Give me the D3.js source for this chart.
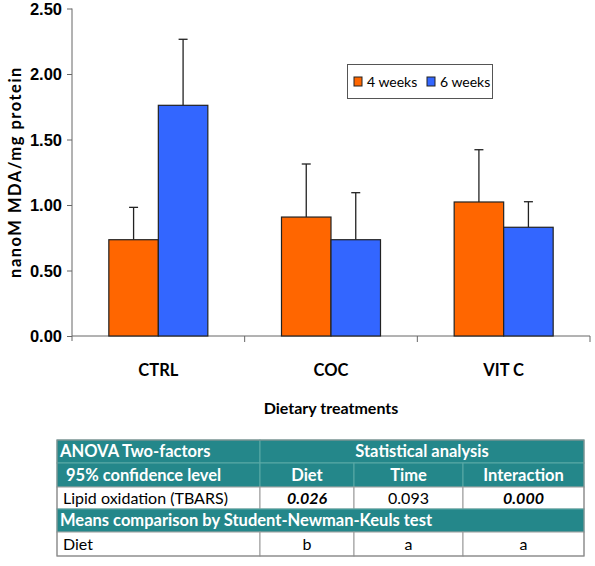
<!DOCTYPE html>
<html><head><meta charset="utf-8">
<script src="https://cdn.jsdelivr.net/npm/d3@7"></script>
<style>body{margin:0;background:#fff}svg{display:block;font-family:Lato,"Open Sans",sans-serif}</style>
</head><body><svg id="c" width="595" height="566"></svg>
<script>
const categories = ["CTRL","COC","VIT C"];
const seriesNames = ["4 weeks","6 weeks"];
const means4 = [0.735, 0.908, 1.023];
const means6 = [1.761, 0.735, 0.830];
const err4 = [0.247, 0.405, 0.399];
const err6 = [0.504, 0.359, 0.195];
const yTicks = [0, 0.5, 1.0, 1.5, 2.0, 2.5];
const tableHead1 = ["ANOVA Two-factors","Statistical analysis"];
const tableHead2 = ["95% confidence level","Diet","Time","Interaction"];
const tableRow1 = ["Lipid oxidation (TBARS)","0.026","0.093","0.000"];
const tableRow1Bold = [false,true,false,true];
const tableHead3 = ["Means comparison by Student-Newman-Keuls test"];
const tableRow2 = ["Diet","b","a","a"];

const colors = ["#FF6600","#3366FF"];
const svg = d3.select("#c");
const L=72, R=590, T=8.5, B=336;
const y = d3.scaleLinear().domain([0,2.5]).range([B,T]);
const x0 = d3.scaleBand().domain(categories).range([L,R]).padding(0);
const x1 = d3.scaleBand().domain(seriesNames).range([0,x0.bandwidth()]).paddingInner(0).paddingOuter(0.744);

const data = categories.map((c,i)=>({cat:c, vals:[
  {s:seriesNames[0], v:means4[i], e:err4[i], col:colors[0]},
  {s:seriesNames[1], v:means6[i], e:err6[i], col:colors[1]}]}));

// y axis
const yAxis = d3.axisLeft(y).tickValues(yTicks).tickFormat(d3.format(".2f")).tickSize(5).tickPadding(5);
const ga = svg.append("g").attr("transform",`translate(${L},0)`).call(yAxis);
ga.select(".domain").attr("stroke","#666").attr("d",`M0,${T}V${B+5}`);
ga.selectAll(".tick line").attr("stroke","#666");
ga.selectAll(".tick text").attr("font-size",16.5).attr("font-weight","bold").attr("fill","#000").attr("dy","0.35em");

// x axis line and ticks at boundaries
const xg = svg.append("g");
xg.append("line").attr("x1",L).attr("x2",R).attr("y1",B).attr("y2",B).attr("stroke","#666");
categories.forEach(c=>{
  const xx = x0(c)+x0.bandwidth();
  xg.append("line").attr("x1",xx).attr("x2",xx).attr("y1",B).attr("y2",B+6).attr("stroke","#666");
});
svg.append("g").selectAll("text").data(categories).join("text")
  .attr("x",d=>x0(d)+x0.bandwidth()/2).attr("y",376).attr("text-anchor","middle")
  .attr("font-size",16.5).attr("font-weight","bold").text(d=>d);

// bars
const g = svg.append("g").selectAll("g").data(data).join("g").attr("transform",d=>`translate(${x0(d.cat)},0)`);
g.selectAll("g.err").data(d=>d.vals).join("g").attr("class","err").each(function(d){
  const cx = x1(d.s)+x1.bandwidth()/2;
  const s = d3.select(this);
  s.append("line").attr("x1",cx).attr("x2",cx).attr("y1",y(d.v)).attr("y2",y(d.v+d.e)).attr("stroke","#222").attr("stroke-width",1.3);
  s.append("line").attr("x1",cx-4.5).attr("x2",cx+4.5).attr("y1",y(d.v+d.e)).attr("y2",y(d.v+d.e)).attr("stroke","#222").attr("stroke-width",1.3);
});
g.selectAll("rect").data(d=>d.vals).join("rect")
  .attr("x",d=>x1(d.s)).attr("width",x1.bandwidth())
  .attr("y",d=>y(d.v)).attr("height",d=>B-y(d.v))
  .attr("fill",d=>d.col).attr("stroke","#222").attr("stroke-width",1.2);

// axis titles
svg.append("text").attr("transform","translate(21,172) rotate(-90)").attr("text-anchor","middle")
  .attr("font-size",16.5).attr("font-weight","bold").attr("letter-spacing","1.5px").text("nanoM MDA/mg protein");
svg.append("text").attr("x",331).attr("y",414).attr("text-anchor","middle")
  .attr("font-size",16).attr("font-weight","bold").text("Dietary treatments");

// legend
const lg = svg.append("g");
lg.append("rect").attr("x",347.5).attr("y",64.5).attr("width",145).attr("height",34).attr("fill","#fff").attr("stroke","#555");
seriesNames.forEach((s,i)=>{
  const lx = [354,427][i];
  lg.append("rect").attr("x",lx).attr("y",77).attr("width",8).attr("height",9).attr("fill",colors[i]).attr("stroke","#222");
  lg.append("text").attr("x",lx+13).attr("y",87).attr("font-size",14).text(s);
});

// table
const teal = "#24878A";
const cols = [57,260,354,463,584];
const rows = [440,463,487,509,532,556];
const tg = svg.append("g").attr("font-size",16);
function cell(x0_,x1_,y0_,y1_,fill){
  tg.append("rect").attr("x",x0_).attr("y",y0_).attr("width",x1_-x0_).attr("height",y1_-y0_)
    .attr("fill",fill).attr("stroke",fill===teal?"#5aa9a6":"#999").attr("stroke-width",1);
}
function txt(s,x,yy,anchor,fill,bold,italic){
  tg.append("text").attr("x",x).attr("y",yy).attr("text-anchor",anchor).attr("fill",fill)
    .attr("font-size",bold&&!italic?16.5:16)
    .attr("font-weight",bold?"bold":"normal").attr("font-style",italic?"italic":"normal").text(s);
}
cell(cols[0],cols[1],rows[0],rows[1],teal); cell(cols[1],cols[4],rows[0],rows[1],teal);
txt(tableHead1[0],cols[0]+3,rows[1]-6,"start","#fff",true);
txt(tableHead1[1],(cols[1]+cols[4])/2,rows[1]-6,"middle","#fff",true);
for(let i=0;i<4;i++) cell(cols[i],cols[i+1],rows[1],rows[2],teal);
txt(tableHead2[0],cols[0]+9,rows[2]-6,"start","#fff",true);
for(let i=1;i<4;i++) txt(tableHead2[i],(cols[i]+cols[i+1])/2,rows[2]-6,"middle","#fff",true);
for(let i=0;i<4;i++) cell(cols[i],cols[i+1],rows[2],rows[3],"#fff");
txt(tableRow1[0],cols[0]+6,rows[3]-5,"start","#000",false);
for(let i=1;i<4;i++) txt(tableRow1[i],(cols[i]+cols[i+1])/2,rows[3]-5,"middle","#000",tableRow1Bold[i],tableRow1Bold[i]);
cell(cols[0],cols[4],rows[3],rows[4],teal);
txt(tableHead3[0],cols[0]+3,rows[4]-6,"start","#fff",true);
for(let i=0;i<4;i++) cell(cols[i],cols[i+1],rows[4],rows[5],"#fff");
txt(tableRow2[0],cols[0]+6,rows[5]-6,"start","#000",false);
for(let i=1;i<4;i++) txt(tableRow2[i],(cols[i]+cols[i+1])/2,rows[5]-6,"middle","#000",false);
tg.append("rect").attr("x",cols[0]).attr("y",rows[0]).attr("width",cols[4]-cols[0]).attr("height",rows[5]-rows[0]).attr("fill","none").attr("stroke","#888");
</script></body></html>
